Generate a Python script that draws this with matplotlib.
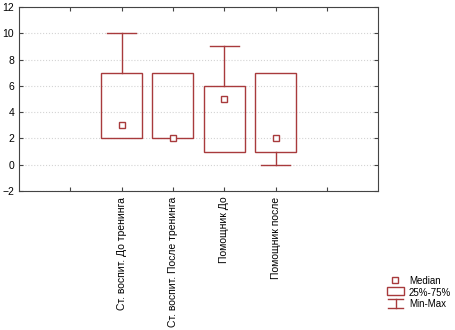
import matplotlib
matplotlib.use("Agg")
import matplotlib.pyplot as plt
from matplotlib.patches import Rectangle
from matplotlib.lines import Line2D

plt.rcParams['font.family'] = ['Liberation Sans', 'DejaVu Sans']

# data
groups = ['Ст. воспит. До тренинга', 'Ст. воспит. После тренинга',
          'Помощник До', 'Помощник после']
positions = [2, 3, 4, 5]
mins = [2, 2, 1, 0]
q1 = [2, 2, 1, 1]
medians = [3, 2, 5, 2]
q3 = [7, 7, 6, 7]
maxs = [10, 7, 9, 7]

red = '#A83A3C'
box_w = 0.8
cap_w = 0.56

fig = plt.figure(figsize=(4.55, 3.3), dpi=100)
ax = fig.add_axes([0.042, 0.421, 0.789, 0.558])

for x, lo, a, m, b, hi in zip(positions, mins, q1, medians, q3, maxs):
    ax.add_patch(Rectangle((x - box_w / 2, a), box_w, b - a, fill=False,
                           edgecolor=red, lw=1.0, zorder=3))
    if hi > b:
        ax.plot([x, x], [b, hi], color=red, lw=1.0, zorder=3)
        ax.plot([x - cap_w / 2, x + cap_w / 2], [hi, hi], color=red, lw=1.0, zorder=3)
    if lo < a:
        ax.plot([x, x], [lo, a], color=red, lw=1.0, zorder=3)
        ax.plot([x - cap_w / 2, x + cap_w / 2], [lo, lo], color=red, lw=1.0, zorder=3)
    ax.plot(x, m, 's', ms=4, mfc='white', mec=red, mew=1.0, zorder=4)

ax.set_xlim(0, 7)
ax.set_ylim(-2, 12)
ax.set_yticks(range(-2, 13, 2))
ax.set_xticks(range(1, 7))
ax.set_xticklabels(['', groups[0], groups[1], groups[2], groups[3], ''],
                   rotation=90, fontsize=7)
ax.tick_params(axis='both', direction='in', labelsize=7.5, length=3,
               top=True, right=True, color='#444444')
ax.tick_params(axis='x', pad=4)
ax.grid(axis='y', color='#d4d4d4', ls=':', lw=0.8)
for s in ax.spines.values():
    s.set_color('#444444')

# legend drawn by hand in figure pixels
def fx(px):
    return px / 455

def fy(py):
    return 1 - py / 330

fig.add_artist(Line2D([fx(395)], [fy(280)], marker='s', ms=4, mfc='white',
                      mec=red, mew=1.0, transform=fig.transFigure))
fig.add_artist(Rectangle((fx(387), fy(294.5)), fx(17), 7.5 / 330, fill=False,
                         edgecolor=red, lw=1.0, transform=fig.transFigure))
fig.add_artist(Line2D([fx(388), fx(403)], [fy(299), fy(299)], color=red, lw=1.0,
                      transform=fig.transFigure))
fig.add_artist(Line2D([fx(395.5), fx(395.5)], [fy(299), fy(308)], color=red, lw=1.0,
                      transform=fig.transFigure))
fig.add_artist(Line2D([fx(388), fx(403)], [fy(308), fy(308)], color=red, lw=1.0,
                      transform=fig.transFigure))
for txt, py in [('Median', 281), ('25%-75%', 293), ('Min-Max', 304)]:
    fig.text(fx(409), fy(py), txt, fontsize=7, va='center', ha='left')

fig.savefig('out.png', dpi=100)
